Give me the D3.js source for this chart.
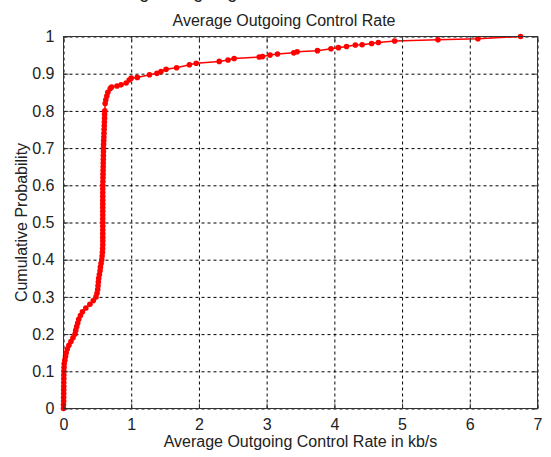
<!DOCTYPE html>
<html>
<head>
<meta charset="utf-8">
<script src="https://cdn.jsdelivr.net/npm/d3@7"></script>
<style>
body { margin: 0; background: #fff; }
text { font-family: "Liberation Sans", Arial, sans-serif; fill: #222; }
</style>
</head>
<body>
<div id="chart"></div>
<script>
// CDF points (rate in kb/s, cumulative probability)
var rate = [0, 0, 0.002, 0.002, 0.003, 0.003, 0.004, 0.004, 0.005, 0.005,
    0.006, 0.008, 0.01, 0.02, 0.03, 0.04, 0.055, 0.08, 0.11, 0.14,
    0.17, 0.18, 0.195, 0.21, 0.225, 0.25, 0.28, 0.33, 0.39, 0.44,
    0.48, 0.495, 0.505, 0.51, 0.515, 0.52, 0.53, 0.54, 0.545, 0.555,
    0.565, 0.57, 0.575, 0.578, 0.58, 0.58, 0.58, 0.58, 0.58, 0.58,
    0.58, 0.58, 0.58, 0.58, 0.58, 0.58, 0.58, 0.58, 0.58, 0.58,
    0.58, 0.582, 0.583, 0.584, 0.585, 0.586, 0.587, 0.588, 0.589, 0.59,
    0.59, 0.592, 0.594, 0.596, 0.598, 0.6, 0.602, 0.604, 0.606, 0.607,
    0.61, 0.615, 0.625, 0.64, 0.655, 0.69, 0.71, 0.79, 0.85, 0.925,
    0.97, 1.0, 1.09, 1.27, 1.38, 1.44, 1.515, 1.67, 1.86, 1.96,
    2.30, 2.43, 2.52, 2.89, 2.94, 3.05, 3.16, 3.40, 3.45, 3.75,
    3.95, 4.06, 4.18, 4.31, 4.41, 4.55, 4.65, 4.89, 5.53, 6.12, 6.75];
var prob = [0, 0.01, 0.02, 0.03, 0.04, 0.05, 0.06, 0.07, 0.08, 0.09,
    0.10, 0.11, 0.12, 0.13, 0.14, 0.15, 0.16, 0.17, 0.18, 0.19,
    0.20, 0.21, 0.22, 0.23, 0.24, 0.25, 0.26, 0.27, 0.28, 0.29,
    0.30, 0.31, 0.32, 0.33, 0.34, 0.35, 0.36, 0.37, 0.38, 0.39,
    0.40, 0.41, 0.42, 0.43, 0.44, 0.45, 0.46, 0.47, 0.48, 0.49,
    0.50, 0.51, 0.52, 0.53, 0.54, 0.55, 0.56, 0.57, 0.58, 0.59,
    0.60, 0.61, 0.62, 0.63, 0.64, 0.65, 0.66, 0.67, 0.68, 0.69,
    0.70, 0.71, 0.72, 0.73, 0.74, 0.75, 0.76, 0.77, 0.78, 0.79,
    0.80, 0.82, 0.83, 0.84, 0.85, 0.86, 0.864, 0.867, 0.870, 0.875,
    0.883, 0.888, 0.890, 0.897, 0.901, 0.906, 0.912, 0.916, 0.924, 0.928,
    0.933, 0.937, 0.941, 0.945, 0.946, 0.950, 0.953, 0.956, 0.959, 0.962,
    0.967, 0.970, 0.973, 0.977, 0.978, 0.981, 0.984, 0.988, 0.991, 0.994, 1.0];

var xTicks = [0, 1, 2, 3, 4, 5, 6, 7];
var yTicks = [0, 0.1, 0.2, 0.3, 0.4, 0.5, 0.6, 0.7, 0.8, 0.9, 1];

var svgWidth = 551;
var svgHeight = 457;
var margin = { top: 36.5, right: 13.5, bottom: 48.5, left: 63.5 };
var width = svgWidth - margin.left - margin.right;
var height = svgHeight - margin.top - margin.bottom;

var svg = d3.select("#chart")
    .append("svg")
    .attr("width", svgWidth)
    .attr("height", svgHeight);

var chartGroup = svg.append("g")
    .attr("transform", `translate(${margin.left}, ${margin.top})`);

var x = d3.scaleLinear().domain([0, 7]).range([0, width]);
var y = d3.scaleLinear().domain([0, 1]).range([height, 0]);

var points = rate.map((r, i) => ({ r: r, p: prob[i] }));

// grid
chartGroup.append("g")
    .attr("class", "grid")
    .attr("transform", `translate(0, ${height})`)
    .call(d3.axisBottom(x).tickValues(xTicks).tickSize(-height).tickFormat(""));
chartGroup.append("g")
    .attr("class", "grid")
    .call(d3.axisLeft(y).tickValues(yTicks).tickSize(-width).tickFormat(""));
chartGroup.selectAll(".grid .domain").remove();
chartGroup.selectAll(".grid line")
    .attr("stroke", "#000")
    .attr("stroke-dasharray", "3,3");

// curve
var line = d3.line().x(d => x(d.r)).y(d => y(d.p));
chartGroup.append("path")
    .datum(points)
    .attr("fill", "none")
    .attr("stroke", "#ff0000")
    .attr("stroke-width", 1.5)
    .attr("d", line);
chartGroup.append("g").selectAll("circle")
    .data(points)
    .enter()
    .append("circle")
    .attr("cx", d => x(d.r))
    .attr("cy", d => y(d.p))
    .attr("r", 2.8)
    .attr("fill", "#ff0000");

// box + axes
chartGroup.append("rect")
    .attr("width", width)
    .attr("height", height)
    .attr("fill", "none")
    .attr("stroke", "#333");

var bottomAxis = d3.axisBottom(x).tickValues(xTicks).tickSize(-5).tickPadding(10).tickFormat(d3.format("d"));
var leftAxis = d3.axisLeft(y).tickValues(yTicks).tickSize(-5).tickPadding(9).tickFormat(d => d === 0 || d === 1 ? d : d3.format(".1f")(d));
var topAxis = d3.axisTop(x).tickValues(xTicks).tickSize(-5).tickFormat("");
var rightAxis = d3.axisRight(y).tickValues(yTicks).tickSize(-5).tickFormat("");

chartGroup.append("g").attr("class", "axis").attr("transform", `translate(0, ${height})`).call(bottomAxis);
chartGroup.append("g").attr("class", "axis").call(leftAxis);
chartGroup.append("g").attr("class", "axis").call(topAxis);
chartGroup.append("g").attr("class", "axis").attr("transform", `translate(${width}, 0)`).call(rightAxis);
chartGroup.selectAll(".axis .domain").remove();
chartGroup.selectAll(".axis line").attr("stroke", "#333");
chartGroup.selectAll(".axis text")
    .style("font-family", '"Liberation Sans", Arial, sans-serif')
    .style("font-size", "16px")
    .attr("fill", "#222");

// titles
svg.append("text")
    .attr("x", 284)
    .attr("y", 26)
    .attr("text-anchor", "middle")
    .style("font-size", "16px")
    .text("Average Outgoing Control Rate");
svg.append("text")
    .attr("x", 218)
    .attr("y", -2)
    .attr("text-anchor", "middle")
    .style("font-size", "18px")
    .text("Average Outgoing Control Rate");
chartGroup.append("text")
    .attr("x", width / 2)
    .attr("y", height + 38)
    .attr("text-anchor", "middle")
    .style("font-size", "16px")
    .text("Average Outgoing Control Rate in kb/s");
chartGroup.append("text")
    .attr("transform", "rotate(-90)")
    .attr("x", -height / 2)
    .attr("y", -37)
    .attr("text-anchor", "middle")
    .style("font-size", "16px")
    .text("Cumulative Probability");
</script>
</body>
</html>
